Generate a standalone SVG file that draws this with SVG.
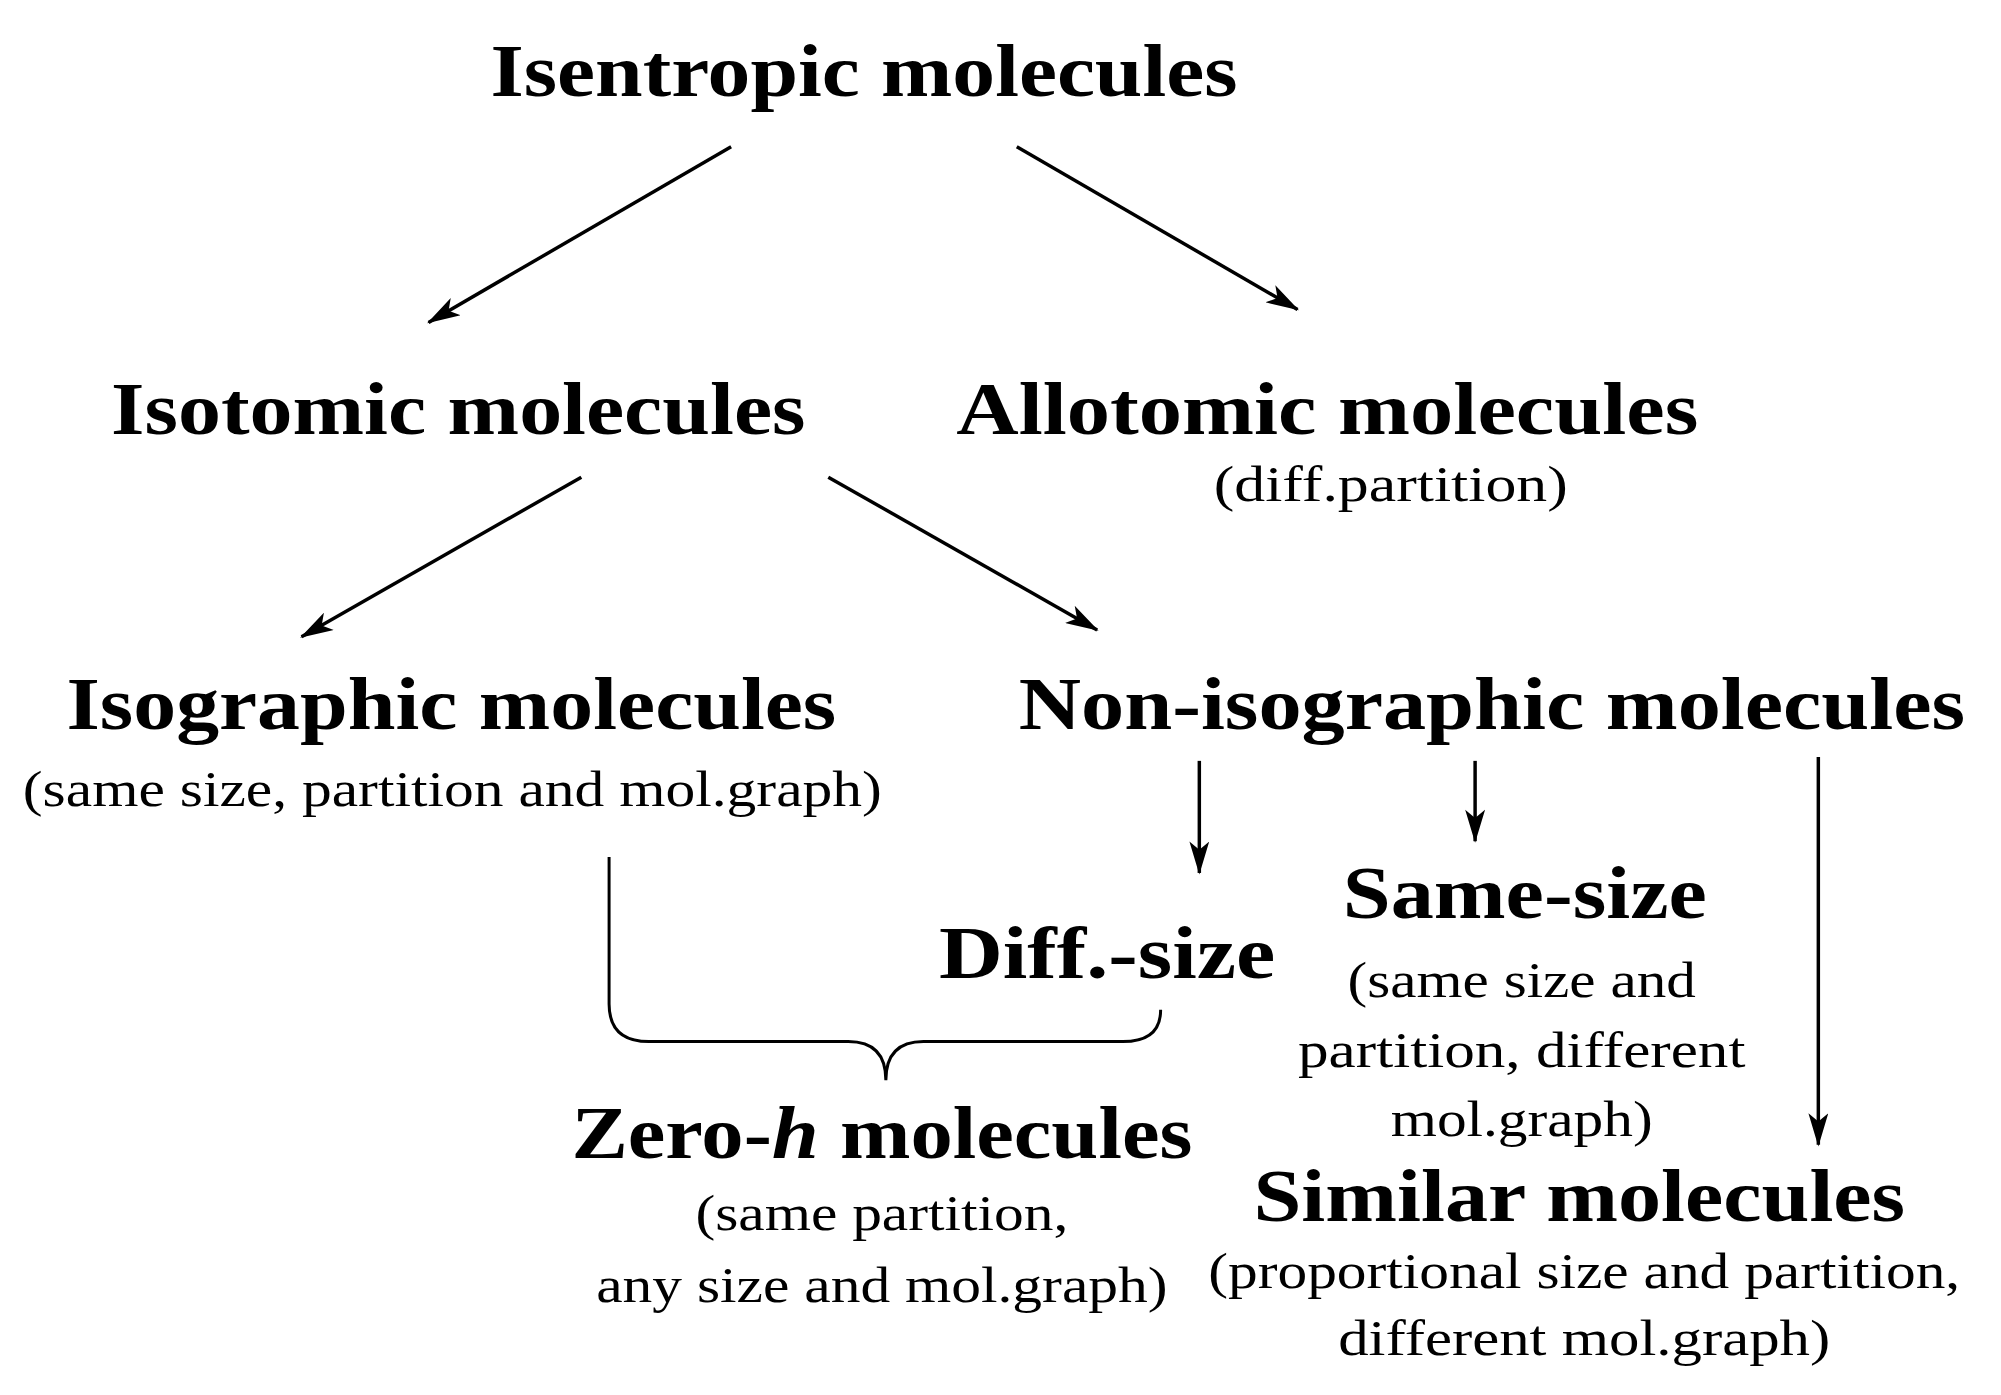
<svg xmlns="http://www.w3.org/2000/svg" width="2001" height="1395" viewBox="0 0 2001 1395">
<style>
.h{font-family:"Liberation Serif",serif;font-weight:bold;font-size:74px;text-anchor:middle;fill:#000}
.s{font-family:"Liberation Serif",serif;font-size:50px;text-anchor:middle;fill:#000}
.c line{stroke:#000;stroke-width:3.5;marker-end:url(#a)}
</style>
<defs><marker id="a" viewBox="0 0 20 12" refX="19" refY="6" markerWidth="34" markerHeight="20" markerUnits="userSpaceOnUse" orient="auto"><path d="M0,0 L20,6 L0,12 L5,6 Z" fill="#000"/></marker></defs>
<rect width="2001" height="1395" fill="#fff"/>
<g transform="scale(0.992)">
<g id="isentropic"><text class="h" x="871" y="97" textLength="753" lengthAdjust="spacingAndGlyphs">Isentropic molecules</text></g>
<g id="isotomic"><text class="h" x="462" y="438" textLength="700" lengthAdjust="spacingAndGlyphs">Isotomic molecules</text></g>
<g id="allotomic"><text class="h" x="1338" y="438" textLength="748" lengthAdjust="spacingAndGlyphs">Allotomic molecules</text>
<text class="s" x="1402" y="505" textLength="357" lengthAdjust="spacingAndGlyphs">(diff.partition)</text></g>
<g id="isographic"><text class="h" x="455" y="735" textLength="776" lengthAdjust="spacingAndGlyphs">Isographic molecules</text>
<text class="s" x="456" y="812" textLength="866" lengthAdjust="spacingAndGlyphs">(same size, partition and mol.graph)</text></g>
<g id="nonisographic"><text class="h" x="1504" y="735" textLength="954" lengthAdjust="spacingAndGlyphs">Non-isographic molecules</text></g>
<g id="diffsize"><text class="h" x="1116" y="986" textLength="339" lengthAdjust="spacingAndGlyphs">Diff.-size</text></g>
<g id="samesize"><text class="h" x="1537" y="925" textLength="367" lengthAdjust="spacingAndGlyphs">Same-size</text>
<text class="s" x="1534" y="1005" textLength="351" lengthAdjust="spacingAndGlyphs">(same size and</text>
<text class="s" x="1534" y="1076" textLength="451" lengthAdjust="spacingAndGlyphs">partition, different</text>
<text class="s" x="1534" y="1145" textLength="264" lengthAdjust="spacingAndGlyphs">mol.graph)</text></g>
<g id="zeroh"><text class="h" x="889" y="1167" textLength="626" lengthAdjust="spacingAndGlyphs">Zero-<tspan font-style="italic">h</tspan> molecules</text>
<text class="s" x="889" y="1240" textLength="376" lengthAdjust="spacingAndGlyphs">(same partition,</text>
<text class="s" x="889" y="1312" textLength="576" lengthAdjust="spacingAndGlyphs">any size and mol.graph)</text></g>
<g id="similar"><text class="h" x="1592" y="1231" textLength="657" lengthAdjust="spacingAndGlyphs">Similar molecules</text>
<text class="s" x="1597" y="1298" textLength="758" lengthAdjust="spacingAndGlyphs">(proportional size and partition,</text>
<text class="s" x="1597" y="1366" textLength="496" lengthAdjust="spacingAndGlyphs">different mol.graph)</text></g>
<g id="connectors" class="c">
<line x1="737" y1="148" x2="432" y2="325"/>
<line x1="1025" y1="148" x2="1308" y2="312"/>
<line x1="586" y1="481" x2="304" y2="642"/>
<line x1="835" y1="481" x2="1106" y2="635"/>
<line x1="1209" y1="767" x2="1209" y2="880"/>
<line x1="1487" y1="767" x2="1487" y2="848"/>
<line x1="1833" y1="763" x2="1833" y2="1154"/>
<path d="M614,864 L614,1012 Q614,1050 654,1050 L855,1050 Q893,1050 893,1089 Q893,1050 931,1050 L1132,1050 Q1170,1050 1170,1018" fill="none" stroke="#000" stroke-width="3"/>
</g>
</g>
</svg>
